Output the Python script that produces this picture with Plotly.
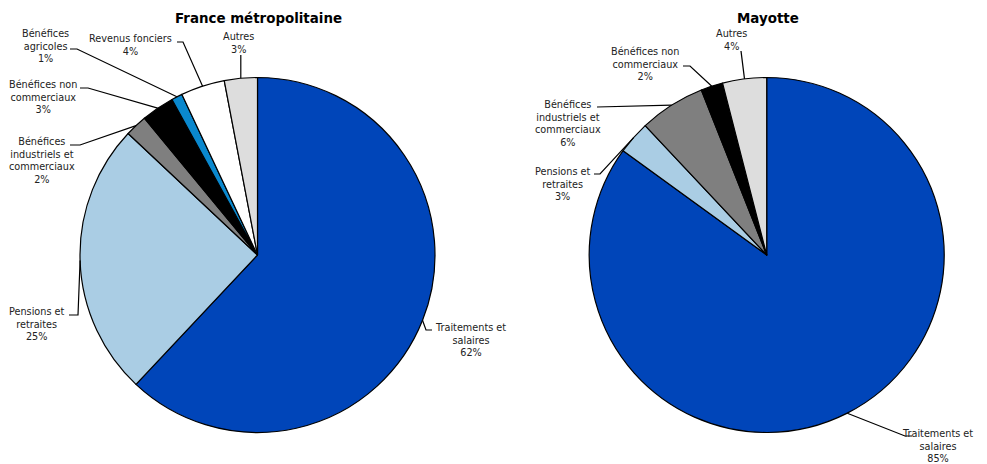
import math
import plotly.graph_objects as go

# Sources of income, share of total (%)
cats_fr = ["Traitements et salaires", "Pensions et retraites",
           "Bénéfices industriels et commerciaux", "Bénéfices non commerciaux",
           "Bénéfices agricoles", "Revenus fonciers", "Autres"]
vals_fr = [62, 25, 2, 3, 1, 4, 3]

cats_may = ["Traitements et salaires", "Pensions et retraites",
            "Bénéfices industriels et commerciaux", "Bénéfices non commerciaux",
            "Autres"]
vals_may = [85, 3, 6, 2, 4]

titles = ["France métropolitaine", "Mayotte"]

# Wrapped label text for each category
wrapped = {
    "Traitements et salaires": "Traitements et<br>salaires",
    "Pensions et retraites": "Pensions et<br>retraites",
    "Bénéfices industriels et commerciaux": "Bénéfices<br>industriels et<br>commerciaux",
    "Bénéfices non commerciaux": "Bénéfices non<br>commerciaux",
    "Bénéfices agricoles": "Bénéfices<br>agricoles",
    "Revenus fonciers": "Revenus fonciers",
    "Autres": "Autres",
}

colors = {
    "Traitements et salaires": "#0045B9",
    "Pensions et retraites": "#AACDE4",
    "Bénéfices industriels et commerciaux": "#7F7F7F",
    "Bénéfices non commerciaux": "#000000",
    "Bénéfices agricoles": "#0A88CE",
    "Revenus fonciers": "#FFFFFF",
    "Autres": "#DDDDDD",
}

W, H = 987, 464
R = 177.5
CY = 255
CX = [257.5, 766.7]

# Label placement: text centre, then the leader path (label end -> elbow) in px.
# An x of None means the leader rises vertically from the slice edge.
label_layout = [
    {
        "Traitements et salaires": ((470, 340), [(432, 330), (426, 330)]),
        "Pensions et retraites": ((36, 324), [(69, 315), (78, 315)]),
        "Bénéfices industriels et commerciaux": ((42, 160), [(70, 145), (80, 145)]),
        "Bénéfices non commerciaux": ((43, 97), [(80, 88), (88, 88)]),
        "Bénéfices agricoles": ((45, 46), [(70, 49), (77, 49)]),
        "Revenus fonciers": ((130, 45), [(177, 42), (183, 42)]),
        "Autres": ((238, 43), [(None, 55)]),
    },
    {
        "Traitements et salaires": ((937, 446), [(912, 436), (905, 436)]),
        "Pensions et retraites": ((562, 184), [(594, 174), (600, 174)]),
        "Bénéfices industriels et commerciaux": ((568, 123), [(597, 107)]),
        "Bénéfices non commerciaux": ((645, 64), [(683, 66), (690, 66)]),
        "Autres": ((731, 40), [(741, 51)]),
    },
]

FONT = "DejaVu Sans"
fig = go.Figure()

shapes = []
annotations = []

for i, (cats, vals) in enumerate([(cats_fr, vals_fr), (cats_may, vals_may)]):
    cx = CX[i]
    fig.add_trace(go.Pie(
        labels=cats, values=vals, sort=False, direction="clockwise", rotation=0,
        marker=dict(colors=[colors[c] for c in cats], line=dict(color="#000000", width=1.2)),
        textinfo="none", hoverinfo="label+percent", showlegend=False,
        domain=dict(x=[(cx - R) / W, (cx + R) / W],
                    y=[(H - (CY + R)) / H, (H - (CY - R)) / H]),
    ))

    total = sum(vals)
    cum = 0
    for c, v in zip(cats, vals):
        mid = (cum + v / 2) / total * 2 * math.pi
        cum += v
        ex = cx + R * math.sin(mid)
        ey = CY - R * math.cos(mid)
        (tx, ty), pts = label_layout[i][c]
        path_pts = [(ex if px is None else px, py) for px, py in pts] + [(ex, ey)]
        path = "M " + " L ".join(f"{px:.1f},{py:.1f}" for px, py in path_pts)
        shapes.append(dict(type="path", path=path, xref="x", yref="y",
                           line=dict(color="#000000", width=1.2)))
        annotations.append(dict(
            x=tx, y=ty, xref="x", yref="y", showarrow=False,
            text=f"{wrapped[c]}<br>{v}%", align="center",
            xanchor="center", yanchor="middle",
            font=dict(family=FONT, size=9.7, color="#222222"),
        ))

    annotations.append(dict(
        x=cx + 1, y=18, xref="x", yref="y", showarrow=False,
        text=f"<b>{titles[i]}</b>", xanchor="center", yanchor="middle",
        font=dict(family=FONT, size=13.4, color="#000000"),
    ))

fig.update_layout(
    width=W, height=H, autosize=False,
    margin=dict(l=0, r=0, t=0, b=0),
    paper_bgcolor="#FFFFFF", plot_bgcolor="rgba(0,0,0,0)",
    xaxis=dict(range=[0, W], visible=False, fixedrange=True),
    yaxis=dict(range=[H, 0], visible=False, fixedrange=True),
    shapes=shapes, annotations=annotations,
)

fig.write_html("out.html")
